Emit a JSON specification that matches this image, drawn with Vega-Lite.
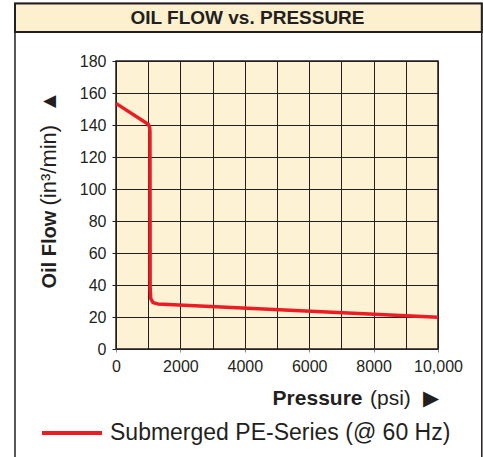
{
  "$schema": "https://vega.github.io/schema/vega-lite/v6.json",
  "autosize": "none",
  "width": 322,
  "height": 288,
  "padding": {"left": 116, "top": 61, "right": 45, "bottom": 108},
  "background": "white",
  "config": {
    "view": {"fill": "#FEF2D5", "stroke": "#231f20", "strokeWidth": 1.5},
    "font": "Liberation Sans",
    "axis": {"labelFont": "Liberation Sans", "titleFont": "Liberation Sans", "labelColor": "#231f20", "titleColor": "#231f20"}
  },
  "datasets": {
    "flow": [
      {"i": 1, "pressure": 0, "flow": 153.5, "series": "Submerged PE-Series (@ 60 Hz)"},
      {"i": 2, "pressure": 1000, "flow": 140.5, "series": "Submerged PE-Series (@ 60 Hz)"},
      {"i": 3, "pressure": 1045, "flow": 138.5, "series": "Submerged PE-Series (@ 60 Hz)"},
      {"i": 4, "pressure": 1055, "flow": 136, "series": "Submerged PE-Series (@ 60 Hz)"},
      {"i": 5, "pressure": 1060, "flow": 38, "series": "Submerged PE-Series (@ 60 Hz)"},
      {"i": 6, "pressure": 1080, "flow": 31.5, "series": "Submerged PE-Series (@ 60 Hz)"},
      {"i": 7, "pressure": 1150, "flow": 29, "series": "Submerged PE-Series (@ 60 Hz)"},
      {"i": 8, "pressure": 1300, "flow": 28.2, "series": "Submerged PE-Series (@ 60 Hz)"},
      {"i": 9, "pressure": 10000, "flow": 19.8, "series": "Submerged PE-Series (@ 60 Hz)"}
    ],
    "one": [{"label": "OIL FLOW vs. PRESSURE"}]
  },
  "resolve": {"axis": {"x": "independent", "y": "independent"}},
  "layer": [
    {
      "data": {"name": "one"},
      "mark": {"type": "rect", "fill": "white", "fillOpacity": 0, "stroke": "#231f20", "strokeWidth": 1.5, "clip": false},
      "encoding": {
        "x": {"datum": -3137, "type": "quantitative", "scale": {"domain": [0, 10000], "nice": false}, "axis": null},
        "x2": {"datum": 11360},
        "y": {"datum": 216, "type": "quantitative", "scale": {"domain": [0, 180], "nice": false}, "axis": null},
        "y2": {"datum": -70}
      }
    },
    {
      "data": {"name": "one"},
      "mark": {"type": "rect", "fill": "#FDF0CE", "stroke": "#231f20", "strokeWidth": 2, "clip": false},
      "encoding": {
        "x": {"datum": -3137, "type": "quantitative", "scale": {"domain": [0, 10000], "nice": false}, "axis": null},
        "x2": {"datum": 11360},
        "y": {"datum": 216, "type": "quantitative", "scale": {"domain": [0, 180], "nice": false}, "axis": null},
        "y2": {"datum": 198.1}
      }
    },
    {
      "data": {"name": "one"},
      "mark": {"type": "text", "font": "Liberation Sans", "fontSize": 19, "fontWeight": "bold", "color": "#231f20", "align": "center", "baseline": "middle", "clip": false},
      "encoding": {
        "text": {"field": "label"},
        "x": {"datum": 4084, "type": "quantitative", "scale": {"domain": [0, 10000], "nice": false}, "axis": null},
        "y": {"datum": 207, "type": "quantitative", "scale": {"domain": [0, 180], "nice": false}, "axis": null}
      }
    },
    {
      "data": {"name": "flow"},
      "mark": {"type": "point", "opacity": 0},
      "encoding": {
        "x": {"field": "pressure", "type": "quantitative", "scale": {"domain": [0, 10000], "nice": false},
          "axis": {"orient": "bottom", "values": [0, 1000, 2000, 3000, 4000, 5000, 6000, 7000, 8000, 9000, 10000], "grid": true, "gridColor": "#231f20", "gridWidth": 1, "gridOpacity": 1, "labels": false, "ticks": false, "domain": false,
            "title": "(psi) \u00a0▶", "titleFontSize": 21, "titleFontWeight": "normal", "titleX": 322, "titleY": 55, "titleAlign": "right", "titleBaseline": "alphabetic", "titleAnchor": null}},
        "y": {"field": "flow", "type": "quantitative", "scale": {"domain": [0, 180], "nice": false},
          "axis": {"orient": "left", "values": [0, 20, 40, 60, 80, 100, 120, 140, 160, 180], "grid": false, "labels": false, "ticks": false, "domain": false,
            "title": "(in³/min) \u00a0▲", "titleFontSize": 22, "titleFontWeight": "normal", "titleAngle": -90, "titleX": -61, "titleY": 144, "titleAlign": "left", "titleBaseline": "alphabetic", "titleAnchor": null}}
      }
    },
    {
      "data": {"name": "flow"},
      "mark": {"type": "line", "strokeWidth": 3.5, "strokeJoin": "round", "strokeCap": "butt"},
      "encoding": {
        "x": {"field": "pressure", "type": "quantitative", "scale": {"domain": [0, 10000], "nice": false},
          "axis": {"orient": "bottom", "values": [0, 2000, 4000, 6000, 8000, 10000], "grid": false, "domain": false, "ticks": true, "tickSize": 3, "tickColor": "#888888", "labelFontSize": 16, "labelPadding": 6, "labelFlush": false,
            "labelExpr": "datum.value == 10000 ? '10,000' : datum.value",
            "title": "Pressure", "titleFontSize": 21, "titleFontWeight": "bold", "titleX": 246, "titleY": 55, "titleAlign": "right", "titleBaseline": "alphabetic", "titleAnchor": null}},
        "y": {"field": "flow", "type": "quantitative", "scale": {"domain": [0, 180], "nice": false},
          "axis": {"orient": "left", "values": [0, 20, 40, 60, 80, 100, 120, 140, 160, 180], "grid": true, "gridColor": "#231f20", "gridWidth": 1, "gridOpacity": 1, "domain": false, "ticks": true, "tickSize": 4, "tickColor": "#231f20", "labelFontSize": 16, "labelPadding": 6, "labelFlush": false,
            "title": "Oil Flow", "titleFontSize": 20, "titleFontWeight": "bold", "titleAngle": -90, "titleX": -61, "titleY": 227, "titleAlign": "left", "titleBaseline": "alphabetic", "titleAnchor": null}},
        "color": {"field": "series", "type": "nominal", "scale": {"range": ["#ED1C24"]},
          "legend": {"orient": "none", "legendX": -76, "legendY": 340, "title": null, "symbolType": "stroke", "symbolSize": 3600, "symbolStrokeWidth": 4, "labelFontSize": 23, "labelColor": "#231f20", "labelFont": "Liberation Sans", "labelOffset": 6, "labelLimit": 500, "padding": 0}},
        "order": {"field": "i", "type": "quantitative"}
      }
    }
  ]
}
